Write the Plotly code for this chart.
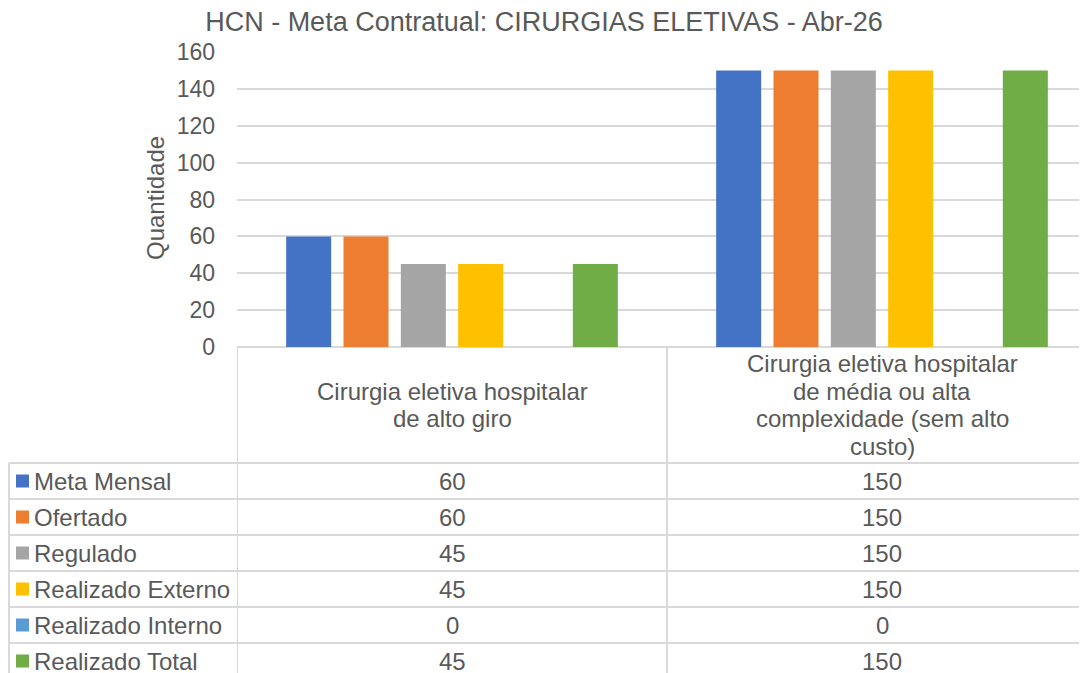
import plotly.graph_objects as go

categories = ["Cirurgia eletiva hospitalar<br>de alto giro",
              "Cirurgia eletiva hospitalar<br>de média ou alta<br>complexidade (sem alto<br>custo)"]
series_names = ["Meta Mensal", "Ofertado", "Regulado", "Realizado Externo", "Realizado Interno", "Realizado Total"]
meta_mensal = [60, 150]
ofertado = [60, 150]
regulado = [45, 150]
realizado_externo = [45, 150]
realizado_interno = [0, 0]
realizado_total = [45, 150]
series_values = [meta_mensal, ofertado, regulado, realizado_externo, realizado_interno, realizado_total]
colors = ["#4472C4", "#ED7D31", "#A5A5A5", "#FFC000", "#5B9BD5", "#70AD47"]
y_ticks = [0, 20, 40, 60, 80, 100, 120, 140, 160]

OFF = 8  # page body margin offset
W, H = 1087 - OFF, 673 - OFF
L = 237 - OFF
T = 52 - OFF
Y0_PAGE = 347
B = H - (Y0_PAGE - OFF)
plot_w = W - L
plot_h = H - T - B

def px_x(page_x):
    return (page_x - OFF - L) / plot_w

def px_y(page_y):
    return (Y0_PAGE - page_y) / plot_h

FONT = "Liberation Sans, Arial, sans-serif"
TXT = "#595959"
GRID = "#D9D9D9"
FS = 24

fig = go.Figure()
xs = [0, 1]
for name, vals, c in zip(series_names, series_values, colors):
    fig.add_trace(go.Bar(x=xs, y=vals, name=name, marker=dict(color=c, line=dict(width=0)),
                         showlegend=False))

shapes = []
annotations = []
line = dict(color=GRID, width=2)

row_lines = [463, 499, 535, 571, 607, 643, 679]
left_px = 9

for xb in [-0.5, 0.5]:
    shapes.append(dict(type="line", xref="x", yref="paper", x0=xb, x1=xb,
                       y0=0, y1=px_y(690), line=line))
shapes.append(dict(type="line", xref="paper", yref="paper", x0=px_x(left_px), x1=px_x(left_px),
                   y0=px_y(row_lines[0]), y1=px_y(690), line=line))
for ry in row_lines:
    shapes.append(dict(type="line", xref="paper", yref="paper", x0=px_x(left_px), x1=1.01,
                       y0=px_y(ry), y1=px_y(ry), line=line))

LINE_H = 27.5
HEAD_CY = 405
for xi, cat in zip(xs, categories):
    parts = cat.split("<br>")
    n = len(parts)
    for k, part in enumerate(parts):
        cy = HEAD_CY + (k - (n - 1) / 2) * LINE_H
        annotations.append(dict(x=xi, xref="x", y=px_y(cy), yref="paper", text=part, showarrow=False,
                                font=dict(family=FONT, size=FS, color=TXT), align="center",
                                xanchor="center", yanchor="middle"))

for i, (name, vals, c) in enumerate(zip(series_names, series_values, colors)):
    cy = (row_lines[i] + row_lines[i + 1]) / 2
    shapes.append(dict(type="rect", xref="paper", yref="paper", x0=px_x(16), x1=px_x(29),
                       y0=px_y(cy + 6.5), y1=px_y(cy - 6.5), fillcolor=c, line=dict(width=0)))
    annotations.append(dict(x=px_x(32), xref="paper", y=px_y(cy), yref="paper", text=name,
                            showarrow=False, xanchor="left", yanchor="middle",
                            font=dict(family=FONT, size=FS, color=TXT)))
    for xi, v in zip(xs, vals):
        annotations.append(dict(x=xi, xref="x", y=px_y(cy), yref="paper", text=str(v),
                                showarrow=False, xanchor="center", yanchor="middle",
                                font=dict(family=FONT, size=FS, color=TXT)))

annotations.append(dict(x=px_x(155), xref="paper", y=px_y(198), yref="paper", text="Quantidade",
                        textangle=-90, showarrow=False, xanchor="center", yanchor="middle",
                        font=dict(family=FONT, size=24, color=TXT)))

fig.update_layout(
    width=W, height=H,
    margin=dict(l=L, r=0, t=T, b=B, pad=0),
    paper_bgcolor="white", plot_bgcolor="white",
    title=dict(text="HCN - Meta Contratual: CIRURGIAS ELETIVAS - Abr-26", x=(544 - OFF) / W,
               xanchor="center", y=1 - (22 - OFF) / H, yanchor="middle",
               font=dict(family=FONT, size=27, color=TXT)),
    barmode="group", bargap=0.2, bargroupgap=0.215,
    xaxis=dict(range=[-0.5, -0.5 + plot_w / 430], showticklabels=False, showgrid=False,
               zeroline=False, showline=False, fixedrange=True),
    yaxis=dict(range=[0, 160], tickvals=y_ticks, showgrid=True, gridcolor=GRID, gridwidth=1.5,
               zeroline=True, zerolinecolor=GRID, zerolinewidth=2, showline=False,
               ticklabelstandoff=21, tickfont=dict(family=FONT, size=23, color=TXT)),
    shapes=shapes, annotations=annotations, showlegend=False,
)

fig.write_html("out.html")
